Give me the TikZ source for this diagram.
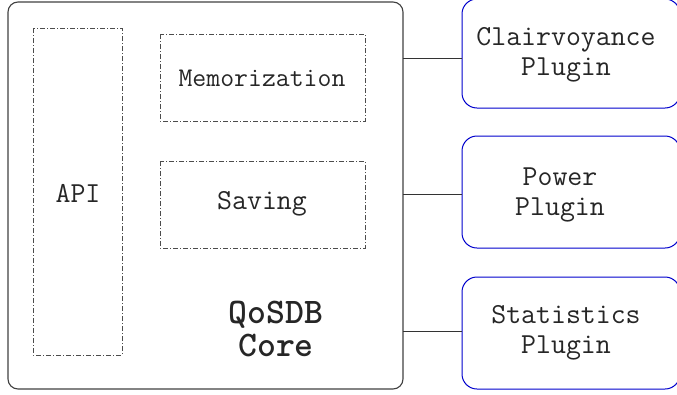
\documentclass[tikz,border=0pt]{standalone}
\usepackage{fontspec}
\begin{document}
\begin{tikzpicture}[x=1pt,y=-1pt,
  corebox/.style={draw=black!75,line width=1.1pt,rounded corners=10pt},
  part/.style={draw=black!70,line width=0.7pt,dash pattern=on 5pt off 2pt on 1pt off 2pt,inner sep=0pt},
  plugin/.style={draw=blue!80!black,line width=1pt,rounded corners=15pt,inner sep=0pt},
  label/.style={font=\ttfamily\fontsize{29}{30}\selectfont,text=black!85,align=center},
  wire/.style={draw=black!80,line width=0.9pt}]
\useasboundingbox (0,0) rectangle (677,394);
\begin{scope}
\clip (0,0) rectangle (677,394);
% core container
\draw[corebox] (8,2) rectangle (403,389);
\coordinate (coreE1) at (403,58);
\coordinate (coreE2) at (403,194);
\coordinate (coreE3) at (403,331);
% inner parts
\draw[part] (33,28) rectangle (122,355);
\node[label] (api) at (78,193) {API};
\draw[part] (160,34) rectangle (365,121);
\node[label,font=\ttfamily\fontsize{27}{28}\selectfont] (mem) at (262,78) {Memorization};
\draw[part] (160,161) rectangle (365,248);
\node[label] (sav) at (262,204) {Saving};
\node[label,font=\ttfamily\bfseries\fontsize{36}{33}\selectfont] (core) at (276,329) {QoSDB\\Core};
% plugins
\draw[plugin] (462,-1) rectangle (680,108);
\node[label] (clair) at (566,55) {Clairvoyance\\Plugin};
\draw[plugin] (462,136) rectangle (680,248);
\node[label] (pow) at (560,195) {Power\\Plugin};
\draw[plugin] (462,277) rectangle (680,389);
\node[label] (stat) at (566,333) {Statistics\\Plugin};
\coordinate (plugW1) at (462,58);
\coordinate (plugW2) at (462,194);
\coordinate (plugW3) at (462,331);
% connectors
\draw[wire] (coreE1) -- (plugW1);
\draw[wire] (coreE2) -- (plugW2);
\draw[wire] (coreE3) -- (plugW3);
\end{scope}
\end{tikzpicture}
\end{document}
